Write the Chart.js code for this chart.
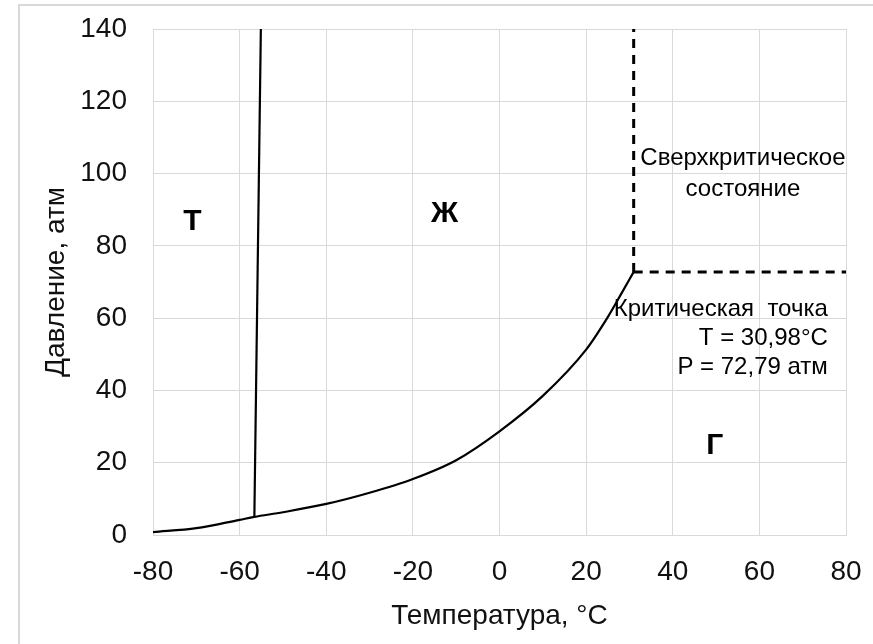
<!DOCTYPE html>
<html>
<head>
<meta charset="utf-8">
<script src="https://cdn.jsdelivr.net/npm/chart.js@4"></script>
<style>
  html, body { margin: 0; padding: 0; background: #fff; overflow: hidden; }
  #wrap { position: relative; width: 873px; height: 644px; }
  #frame { position: absolute; left: 18px; top: 4px; width: 900px; height: 700px;
           border-top: 2px solid #d9d9d9; border-left: 2px solid #d9d9d9; }
  #chart { position: absolute; left: 0; top: 0; }
</style>
</head>
<body>
<div id="wrap">
  <div id="frame"></div>
  <canvas id="chart" width="873" height="644"></canvas>
</div>
<script>
// phase diagram of CO2

// sublimation + boiling curve
const curveT = [-80, -70, -60, -56.6, -50, -40, -30, -20, -10, 0, 10, 20, 25, 28, 30.98];
const curveP = [0.8, 1.9, 4.2, 5.0, 6.3, 8.6, 11.7, 15.5, 20.7, 28.7, 38.5, 51.3, 60.3, 66.5, 72.79];

// melting line
const meltT = [-56.6, -55.1];
const meltP = [5.0, 140];

// critical point dashed borders
const critVertT = [30.98, 30.98];
const critVertP = [72.79, 140];
const critHorT = [30.98, 80];
const critHorP = [72.79, 72.79];

const xTicks = [-80, -60, -40, -20, 0, 20, 40, 60, 80];
const yTicks = [0, 20, 40, 60, 80, 100, 120, 140];

// text labels: [text, T, P]
const phaseLabels = [
  ["Т", -70.9, 86.8],
  ["Ж", -12.7, 88.9],
  ["Г", 49.7, 24.7]
];
const noteLabels = [
  ["Сверхкритическое", 56.2, 104.1, "center"],
  ["состояние", 56.2, 95.5, "center"],
  ["Критическая  точка", 75.8, 62.5, "right"],
  ["T = 30,98°C", 75.8, 54.3, "right"],
  ["P = 72,79 атм", 75.8, 46.5, "right"]
];

function pts(xs, ys) {
  return xs.map((x, i) => ({ x: x, y: ys[i] }));
}

const FONT = "'Liberation Sans', Arial, sans-serif";

const textPlugin = {
  id: "phaseText",
  afterDatasetsDraw(chart) {
    const ctx = chart.ctx;
    const xs = chart.scales.x, ys = chart.scales.y;
    ctx.save();
    ctx.fillStyle = "#000";
    ctx.textBaseline = "middle";
    ctx.font = "bold 30px " + FONT;
    ctx.textAlign = "center";
    phaseLabels.forEach(l => {
      ctx.fillText(l[0], xs.getPixelForValue(l[1]), ys.getPixelForValue(l[2]));
    });
    ctx.font = "24px " + FONT;
    noteLabels.forEach(l => {
      ctx.textAlign = l[3];
      ctx.fillText(l[0], xs.getPixelForValue(l[1]), ys.getPixelForValue(l[2]));
    });
    ctx.restore();
  }
};

const lineBase = {
  showLine: true,
  pointRadius: 0,
  borderColor: "#000",
  backgroundColor: "#000",
  fill: false
};

new Chart(document.getElementById("chart").getContext("2d"), {
  type: "scatter",
  data: {
    datasets: [
      Object.assign({}, lineBase, { data: pts(curveT, curveP), borderWidth: 2.2, cubicInterpolationMode: "monotone" }),
      Object.assign({}, lineBase, { data: pts(meltT, meltP), borderWidth: 2.2 }),
      Object.assign({}, lineBase, { data: pts(critVertT, critVertP), borderWidth: 3, borderDash: [9, 7] }),
      Object.assign({}, lineBase, { data: pts(critHorT, critHorP), borderWidth: 3, borderDash: [9, 7] })
    ]
  },
  options: {
    responsive: false,
    animation: false,
    layout: { padding: { left: 0, top: 29, right: 27, bottom: 0 } },
    plugins: { legend: { display: false }, tooltip: { enabled: false } },
    scales: {
      x: {
        type: "linear",
        min: -80, max: 80,
        afterFit: s => { s.height = 109; },
        afterBuildTicks: s => { s.ticks = xTicks.map(v => ({ value: v })); },
        grid: { color: "#d9d9d9", lineWidth: 1, drawTicks: true, tickLength: 20, tickColor: "rgba(0,0,0,0)" },
        border: { color: "#d9d9d9" },
        ticks: { color: "#111", padding: 0, font: { family: FONT, size: 28 } },
        title: {
          display: true, text: "Температура, °C", color: "#111",
          font: { family: FONT, size: 28 }, padding: { top: 0, bottom: 11 }
        }
      },
      y: {
        type: "linear",
        min: 0, max: 140,
        afterFit: s => { s.width = 153; },
        afterBuildTicks: s => { s.ticks = yTicks.map(v => ({ value: v })); },
        grid: { color: "#d9d9d9", lineWidth: 1, drawTicks: true, tickLength: 26, tickColor: "rgba(0,0,0,0)" },
        border: { color: "#d9d9d9" },
        ticks: { color: "#111", padding: 0, font: { family: FONT, size: 28 } },
        title: {
          display: true, text: "Давление, атм", color: "#111",
          font: { family: FONT, size: 28 }, padding: { top: 39, bottom: 0 }
        }
      }
    }
  },
  plugins: [textPlugin]
});
</script>
</body>
</html>
